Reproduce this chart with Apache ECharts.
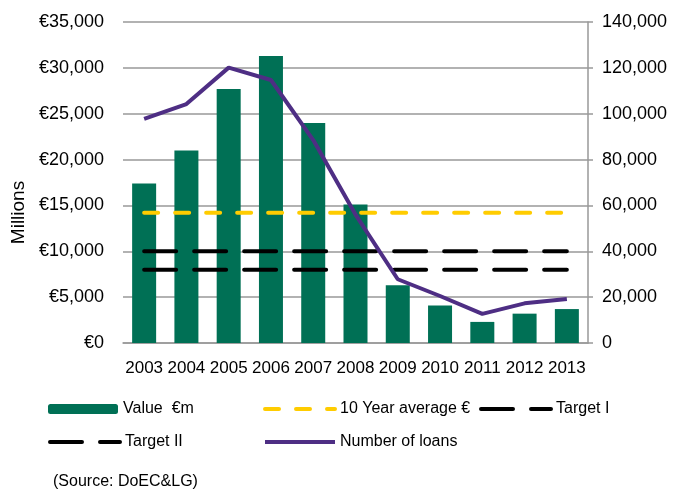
<!DOCTYPE html>
<html>
<head>
<meta charset="utf-8">
<script src="https://cdn.jsdelivr.net/npm/echarts@6/dist/echarts.min.js"></script>
<style>
  html, body { margin: 0; padding: 0; background: #fff; }
  #chart { width: 687px; height: 492px; }
</style>
</head>
<body>
<div id="chart"></div>
<script>
// data
var years = ['2003', '2004', '2005', '2006', '2007', '2008', '2009', '2010', '2011', '2012', '2013'];
var valueMillions = [17400, 21000, 27700, 31300, 24000, 15100, 6300, 4100, 2300, 3200, 3700];
var numberOfLoans = [97700, 104200, 120100, 114700, 88500, 56000, 27800, 20500, 12700, 17300, 19200];
var tenYearAverage = 14200;
var targetOne = 10000;
var targetTwo = 8000;
var leftTicks = [0, 35000, 5000];     // min, max, interval
var rightTicks = [0, 140000, 20000];

function flat(v) {
  return years.map(function () { return v; });
}

var chart = echarts.init(document.getElementById('chart'));

var legendText = { fontFamily: 'Liberation Sans', fontSize: 16, color: '#000', lineHeight: 20 };
function legendAt(name, left, top, h, isLine) {
  var l = {
    data: [name], left: left, top: top, padding: 0,
    itemWidth: 70, itemHeight: h, itemGap: 0,
    textStyle: legendText, selectedMode: false
  };
  if (isLine) {
    // line-only key, no marker
    l.itemStyle = { opacity: 0 };
    l.lineStyle = { width: 4, opacity: 1 };
  }
  return l;
}

var option = {
  backgroundColor: '#fff',
  animation: false,
  textStyle: { fontFamily: 'Liberation Sans' },
  grid: { left: 123, right: 99, top: 22, bottom: 149 },
  legend: [
    legendAt('Value  €m', 48, 399, 10, false),
    legendAt('10 Year average €', 263, 399, 14, true),
    legendAt('Target I', 479, 399, 14, true),
    legendAt('Target II', 48, 432, 14, true),
    legendAt('Number of loans', 263, 432, 14, true)
  ],
  graphic: [{
    type: 'text', left: 53, top: 474,
    style: { text: '(Source: DoEC&LG)', fontFamily: 'Liberation Sans', fontSize: 16, fill: '#000' }
  }],
  xAxis: {
    type: 'category',
    data: years,
    axisLine: { lineStyle: { color: '#999', width: 1.5 } },
    axisTick: { show: false },
    axisLabel: { interval: 0, margin: 17, color: '#000', fontSize: 17 }
  },
  yAxis: [{
    type: 'value',
    min: leftTicks[0], max: leftTicks[1], interval: leftTicks[2],
    name: 'Millions',
    nameLocation: 'middle',
    nameRotate: 90,
    nameGap: 91,
    nameTextStyle: { color: '#000', fontFamily: 'Liberation Sans', fontSize: 19, padding: [0, 60, 0, 0] },
    axisLine: { show: false },
    axisTick: { show: false },
    axisLabel: {
      margin: 19, color: '#000', fontSize: 18,
      formatter: function (v) { return '€' + v.toLocaleString('en-US'); }
    },
    splitLine: { lineStyle: { color: '#999', width: 1.5 } }
  }, {
    type: 'value',
    min: rightTicks[0], max: rightTicks[1], interval: rightTicks[2],
    position: 'right',
    axisLine: { show: true, lineStyle: { color: '#999', width: 1.5 } },
    axisTick: { show: true, length: 5, lineStyle: { color: '#999', width: 1.5 } },
    axisLabel: {
      margin: 14, color: '#000', fontSize: 18,
      formatter: function (v) { return v.toLocaleString('en-US'); }
    },
    splitLine: { show: false }
  }],
  series: [{
    name: 'Value  €m',
    type: 'bar',
    data: valueMillions,
    barWidth: 24,
    itemStyle: { color: '#007055' }
  }, {
    name: '10 Year average €',
    type: 'line',
    data: flat(tenYearAverage),
    symbol: 'none',
    itemStyle: { color: '#ffcc00' },
    lineStyle: { color: '#ffcc00', width: 4, type: [14, 17], cap: 'round' }
  }, {
    name: 'Target I',
    type: 'line',
    data: flat(targetOne),
    symbol: 'none',
    itemStyle: { color: '#000' },
    lineStyle: { color: '#000', width: 4, type: [32, 18], cap: 'round' }
  }, {
    name: 'Target II',
    type: 'line',
    data: flat(targetTwo),
    symbol: 'none',
    itemStyle: { color: '#000' },
    lineStyle: { color: '#000', width: 4, type: [32, 18], cap: 'round' }
  }, {
    name: 'Number of loans',
    type: 'line',
    yAxisIndex: 1,
    data: numberOfLoans,
    symbol: 'none',
    z: 5,
    itemStyle: { color: '#4e2e84' },
    lineStyle: { color: '#4e2e84', width: 4 }
  }]
};

chart.setOption(option);
</script>
</body>
</html>
